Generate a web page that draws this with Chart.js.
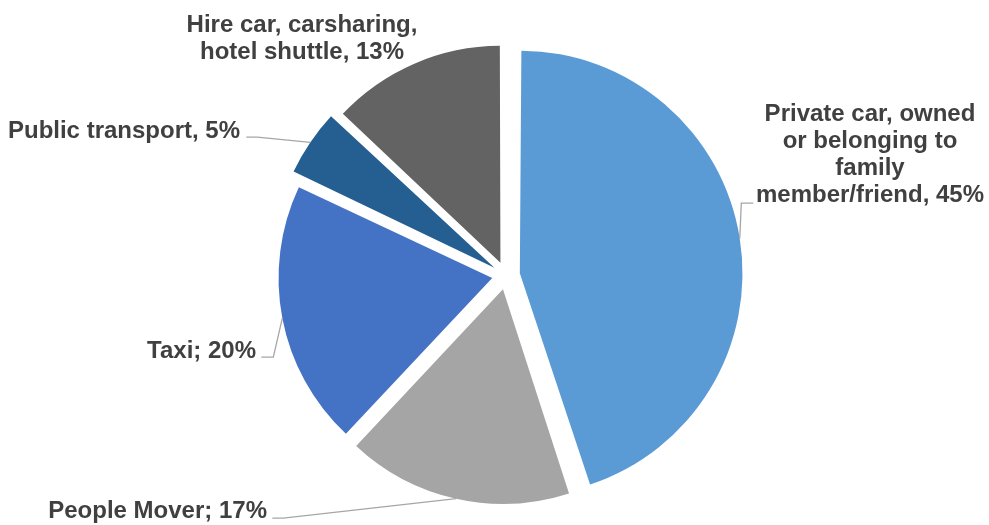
<!DOCTYPE html>
<html>
<head>
<meta charset="utf-8">
<script src="https://cdn.jsdelivr.net/npm/chart.js@4/dist/chart.umd.min.js"></script>
<style>
  html, body { margin: 0; padding: 0; background: #ffffff; }
  #c { display: block; }
</style>
</head>
<body>
<canvas id="c" width="989" height="525"></canvas>
<script>
// ---- data ----
const categories = [
  'Private car, owned or belonging to family member/friend',
  'People Mover',
  'Taxi',
  'Public transport',
  'Hire car, carsharing, hotel shuttle'
];
const values = [45, 17, 20, 5, 13];
const sliceColors = ['#5B9BD5', '#A5A5A5', '#4472C4', '#255E91', '#636363'];
const labelTexts = [
  ['Private car, owned', 'or belonging to', 'family', 'member/friend, ' + values[0] + '%'],
  ['People Mover; ' + values[1] + '%'],
  ['Taxi; ' + values[2] + '%'],
  ['Public transport, ' + values[3] + '%'],
  ['Hire car, carsharing,', 'hotel shuttle, ' + values[4] + '%']
];

// label layout, relative to the pie centre
const labelLayout = [
  { dx: 364, dy: -154.3, align: 'center', leader: [[235.3, -72.3], [247.3, -72.3]] },
  { dx: -239, dy: 242.7, align: 'right', leader: [[-222.7, 242.7], [-233.7, 242.7]] },
  { dx: -250, dy: 82.7, align: 'right', leader: [[-232.7, 81.7], [-244.7, 81.7]] },
  { dx: -266, dy: -137.3, align: 'right', leader: [[-248.7, -138.3], [-259.7, -138.3]] },
  { dx: -204, dy: -243.3, align: 'center', leader: null }
];
const EXPLODE = 14;
const LINE_H = 27;

const labelPlugin = {
  id: 'pieLabels',
  afterDatasetsDraw(chart) {
    const ctx = chart.ctx;
    const meta = chart.getDatasetMeta(0);
    ctx.save();
    ctx.font = 'bold 24px "Liberation Sans", Arial, sans-serif';
    ctx.fillStyle = '#404040';
    ctx.textBaseline = 'alphabetic';
    meta.data.forEach((arc, i) => {
      const p = arc.getProps(['x', 'y', 'startAngle', 'endAngle', 'outerRadius'], true);
      const cx = p.x, cy = p.y;
      const lay = labelLayout[i];
      if (lay.leader) {
        const mid = (p.startAngle + p.endAngle) / 2;
        const circ = p.endAngle - p.startAngle;
        const fix = 1 - Math.sin(Math.min(Math.PI, circ));
        const r = p.outerRadius + EXPLODE + EXPLODE * fix;
        ctx.beginPath();
        ctx.strokeStyle = '#A6A6A6';
        ctx.lineWidth = 1.3;
        ctx.moveTo(cx + Math.cos(mid) * r, cy + Math.sin(mid) * r);
        lay.leader.forEach(pt => ctx.lineTo(cx + pt[0], cy + pt[1]));
        ctx.stroke();
      }
      ctx.textAlign = lay.align;
      labelTexts[i].forEach((line, k) => {
        ctx.fillText(line, cx + lay.dx, cy + lay.dy + k * LINE_H);
      });
    });
    ctx.restore();
  }
};

new Chart(document.getElementById('c'), {
  type: 'pie',
  data: {
    labels: categories,
    datasets: [{
      data: values,
      backgroundColor: sliceColors,
      borderWidth: 0,
      offset: EXPLODE * 4
    }]
  },
  options: {
    responsive: false,
    devicePixelRatio: 1,
    animation: false,
    radius: 213,
    layout: { padding: { left: 23, top: 26, right: 0, bottom: 0 } },
    plugins: {
      legend: { display: false },
      tooltip: { enabled: false }
    }
  },
  plugins: [labelPlugin]
});
</script>
</body>
</html>
